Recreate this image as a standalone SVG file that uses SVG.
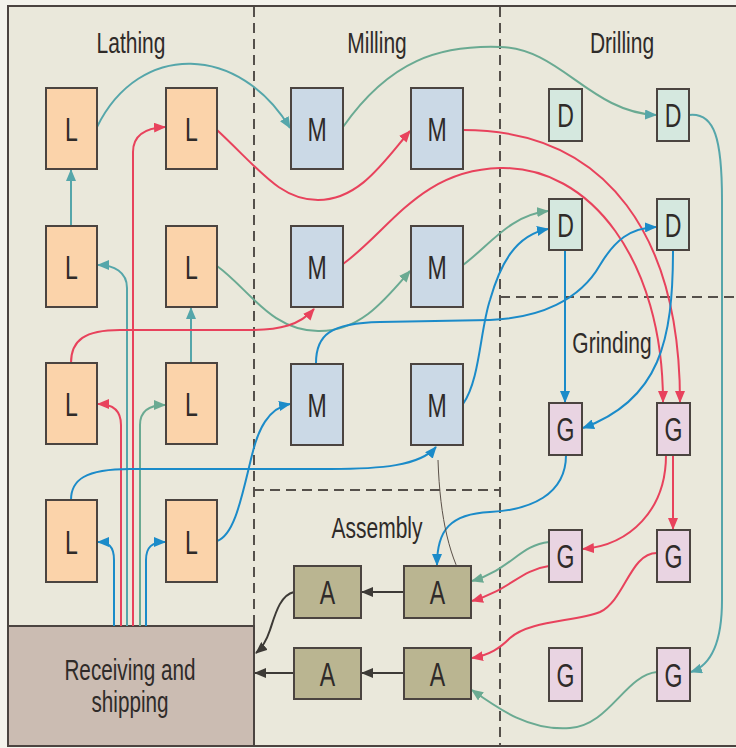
<svg xmlns="http://www.w3.org/2000/svg" width="736" height="748" viewBox="0 0 736 748">
<style>
.box{stroke:#4b4440;stroke-width:2}
.L{fill:#fbd3aa}.M{fill:#cbd9e6}.D{fill:#d5e8df}.G{fill:#e9d4e2}.A{fill:#bab591}
.lbl{font-family:"Liberation Sans",Arial,sans-serif;font-size:33px;fill:#2f2b29;text-anchor:middle}
.ttl{font-family:"Liberation Sans",Arial,sans-serif;font-size:30px;fill:#2f2b29;text-anchor:middle}
.dash{stroke:#55504b;stroke-width:2;stroke-dasharray:10 6;fill:none}
.c{fill:none;stroke-width:2}
.t{stroke:#55a6aa}.g{stroke:#6aaa92}.r{stroke:#e8425c}.b{stroke:#1b8bc9}.k{stroke:#3d3a36}
</style>
<defs>
<marker id="at" viewBox="0 0 12 10" refX="11" refY="5" markerWidth="12" markerHeight="10" markerUnits="userSpaceOnUse" orient="auto"><path d="M0,0 L12,5 L0,10 z" fill="#55a6aa"/></marker>
<marker id="ag" viewBox="0 0 12 10" refX="11" refY="5" markerWidth="12" markerHeight="10" markerUnits="userSpaceOnUse" orient="auto"><path d="M0,0 L12,5 L0,10 z" fill="#6aaa92"/></marker>
<marker id="ar" viewBox="0 0 12 10" refX="11" refY="5" markerWidth="12" markerHeight="10" markerUnits="userSpaceOnUse" orient="auto"><path d="M0,0 L12,5 L0,10 z" fill="#e8425c"/></marker>
<marker id="ab" viewBox="0 0 12 10" refX="11" refY="5" markerWidth="12" markerHeight="10" markerUnits="userSpaceOnUse" orient="auto"><path d="M0,0 L12,5 L0,10 z" fill="#1b8bc9"/></marker>
<marker id="ak" viewBox="0 0 12 10" refX="11" refY="5" markerWidth="12" markerHeight="10" markerUnits="userSpaceOnUse" orient="auto"><path d="M0,0 L12,5 L0,10 z" fill="#3d3a36"/></marker>
</defs>
<rect x="0" y="0" width="736" height="748" fill="#f4f3ec"/>
<rect x="8" y="6" width="740" height="740" fill="#eae8db" stroke="#4b4440" stroke-width="2"/>
<g id="zones">
<line class="dash" x1="254" y1="7" x2="254" y2="626"/>
<line class="dash" x1="500" y1="7" x2="500" y2="746"/>
<line class="dash" x1="500" y1="297" x2="736" y2="297"/>
<line class="dash" x1="254" y1="490" x2="500" y2="490"/>
<text class="ttl" transform="translate(131,53) scale(0.7,1)">Lathing</text>
<text class="ttl" transform="translate(377,53) scale(0.7,1)">Milling</text>
<text class="ttl" transform="translate(622,53) scale(0.7,1)">Drilling</text>
<text class="ttl" transform="translate(612,353) scale(0.7,1)">Grinding</text>
<text class="ttl" transform="translate(377,538) scale(0.7,1)">Assembly</text>
</g>
<g id="receiving">
<rect x="8" y="626" width="246" height="120" fill="#cbbcb2" stroke="#4b4440" stroke-width="2"/>
<text class="ttl" transform="translate(130,680) scale(0.69,1)">Receiving and</text>
<text class="ttl" transform="translate(130,712) scale(0.69,1)">shipping</text>
</g>
<g id="connectors">
<path class="c b" d="M114,626 L114,560 C114,546 108,542 98,542" marker-end="url(#ab)"/>
<path class="c r" d="M121,626 L121,425 C121,410 112,404 98,404" marker-end="url(#ar)"/>
<path class="c t" d="M127,626 L127,288 C127,272 114,265 98,265" marker-end="url(#at)"/>
<path class="c r" d="M133,626 L133,152 C133,135 145,128 165,127" marker-end="url(#ar)"/>
<path class="c g" d="M140,626 L140,425 C140,411 150,405 165,405" marker-end="url(#ag)"/>
<path class="c b" d="M146,626 L146,560 C146,547 152,542 165,542" marker-end="url(#ab)"/>
<path class="c t" d="M71,226 L71,170" marker-end="url(#at)"/>
<path class="c t" d="M191,363 L191,308" marker-end="url(#at)"/>
<path class="c t" d="M97,127 C140,40 240,45 290,128" marker-end="url(#at)"/>
<path class="c r" d="M217,130 C260,170 280,200 318,200 C360,200 385,160 410,131" marker-end="url(#ar)"/>
<path class="c g" d="M217,266 C250,290 270,330 318,331 C360,332 385,300 410,271" marker-end="url(#ag)"/>
<path class="c r" d="M71,363 C71,340 85,330 120,330 L250,330 C280,330 300,325 314,309" marker-end="url(#ar)"/>
<path class="c b" d="M71,500 C71,480 85,469 130,469 L330,469 C380,469 420,466 436,447" marker-end="url(#ab)"/>
<path class="c b" d="M217,541 C235,535 242,495 252,455 C258,430 268,408 290,404" marker-end="url(#ab)"/>
<path class="c g" d="M343,127 C390,60 440,45 500,47 C560,48 590,112 656,115" marker-end="url(#at)"/>
<path class="c r" d="M463,130 C610,130 680,240 680,402" marker-end="url(#ar)"/>
<path class="c r" d="M343,264 C390,230 420,170 500,168 C590,166 663,260 663,402" marker-end="url(#ar)"/>
<path class="c g" d="M463,265 C490,245 510,215 548,211" marker-end="url(#ag)"/>
<path class="c b" d="M316,363 C316,335 330,323 380,322 L490,320 C540,318 580,300 600,265 C615,240 630,228 656,227" marker-end="url(#ab)"/>
<path class="c b" d="M463,404 C480,380 480,330 490,300 C500,265 515,235 548,229" marker-end="url(#ab)"/>
<path class="c t" d="M689,115 C715,112 722,140 722,200 L722,600 C722,640 712,665 691,672" marker-end="url(#at)"/>
<path class="c b" d="M565,250 L565,402" marker-end="url(#ab)"/>
<path class="c b" d="M673,250 C673,340 660,400 583,428" marker-end="url(#ab)"/>
<path class="c b" d="M566,455 C566,495 530,510 490,512 C450,514 437,530 437,565" marker-end="url(#ab)"/>
<path class="c r" d="M666,455 C666,510 630,545 583,549" marker-end="url(#ar)"/>
<path class="c r" d="M673,455 L673,529" marker-end="url(#ar)"/>
<path class="c g" d="M549,542 C520,545 510,570 472,581" marker-end="url(#ag)"/>
<path class="c r" d="M549,566 C520,570 510,590 472,601" marker-end="url(#ar)"/>
<path class="c r" d="M657,553 C630,553 625,600 600,612 C575,622 530,620 510,638 C500,648 490,655 472,658" marker-end="url(#ar)"/>
<path class="c g" d="M657,672 C625,675 610,725 570,728 C530,731 500,710 472,690" marker-end="url(#ag)"/>
<path class="c k" d="M404,592 L362,592" marker-end="url(#ak)"/>
<path class="c k" d="M404,673 L362,673" marker-end="url(#ak)"/>
<path class="c k" d="M294,673 L255,673" marker-end="url(#ak)"/>
<path class="c k" d="M294,592 C280,595 275,615 270,630 C266,642 262,648 256,653" marker-end="url(#ak)"/>
<path d="M438,460 C440,520 450,560 468,588" fill="none" stroke="#5a5048" stroke-width="1"/>
</g>
<g id="L11"><rect class="box L" x="46" y="88" width="51" height="81"/><text class="lbl" transform="translate(71.5,141) scale(0.7,1)">L</text></g>
<g id="L12"><rect class="box L" x="166" y="88" width="51" height="81"/><text class="lbl" transform="translate(191.5,141) scale(0.7,1)">L</text></g>
<g id="L21"><rect class="box L" x="46" y="226" width="51" height="81"/><text class="lbl" transform="translate(71.5,279) scale(0.7,1)">L</text></g>
<g id="L22"><rect class="box L" x="166" y="226" width="51" height="81"/><text class="lbl" transform="translate(191.5,279) scale(0.7,1)">L</text></g>
<g id="L31"><rect class="box L" x="46" y="363" width="51" height="81"/><text class="lbl" transform="translate(71.5,416) scale(0.7,1)">L</text></g>
<g id="L32"><rect class="box L" x="166" y="363" width="51" height="81"/><text class="lbl" transform="translate(191.5,416) scale(0.7,1)">L</text></g>
<g id="L41"><rect class="box L" x="46" y="500" width="51" height="82"/><text class="lbl" transform="translate(71.5,554) scale(0.7,1)">L</text></g>
<g id="L42"><rect class="box L" x="166" y="500" width="51" height="82"/><text class="lbl" transform="translate(191.5,554) scale(0.7,1)">L</text></g>
<g id="M11"><rect class="box M" x="291" y="88" width="52" height="81"/><text class="lbl" transform="translate(317,141) scale(0.7,1)">M</text></g>
<g id="M12"><rect class="box M" x="411" y="88" width="52" height="81"/><text class="lbl" transform="translate(437,141) scale(0.7,1)">M</text></g>
<g id="M21"><rect class="box M" x="291" y="226" width="52" height="81"/><text class="lbl" transform="translate(317,279) scale(0.7,1)">M</text></g>
<g id="M22"><rect class="box M" x="411" y="226" width="52" height="81"/><text class="lbl" transform="translate(437,279) scale(0.7,1)">M</text></g>
<g id="M31"><rect class="box M" x="291" y="364" width="52" height="81"/><text class="lbl" transform="translate(317,417) scale(0.7,1)">M</text></g>
<g id="M32"><rect class="box M" x="411" y="364" width="52" height="81"/><text class="lbl" transform="translate(437,417) scale(0.7,1)">M</text></g>
<g id="D11"><rect class="box D" x="549" y="89" width="33" height="52"/><text class="lbl" transform="translate(565.5,127) scale(0.7,1)">D</text></g>
<g id="D12"><rect class="box D" x="657" y="89" width="32" height="52"/><text class="lbl" transform="translate(673,127) scale(0.7,1)">D</text></g>
<g id="D21"><rect class="box D" x="549" y="199" width="33" height="51"/><text class="lbl" transform="translate(565.5,236.5) scale(0.7,1)">D</text></g>
<g id="D22"><rect class="box D" x="657" y="199" width="32" height="51"/><text class="lbl" transform="translate(673,236.5) scale(0.7,1)">D</text></g>
<g id="G11"><rect class="box G" x="549" y="403" width="33" height="52"/><text class="lbl" transform="translate(565.5,441) scale(0.7,1)">G</text></g>
<g id="G12"><rect class="box G" x="657" y="403" width="33" height="52"/><text class="lbl" transform="translate(673.5,441) scale(0.7,1)">G</text></g>
<g id="G21"><rect class="box G" x="549" y="530" width="33" height="52"/><text class="lbl" transform="translate(565.5,568) scale(0.7,1)">G</text></g>
<g id="G22"><rect class="box G" x="657" y="530" width="33" height="52"/><text class="lbl" transform="translate(673.5,568) scale(0.7,1)">G</text></g>
<g id="G31"><rect class="box G" x="549" y="648" width="33" height="53"/><text class="lbl" transform="translate(565.5,686.5) scale(0.7,1)">G</text></g>
<g id="G32"><rect class="box G" x="657" y="648" width="33" height="53"/><text class="lbl" transform="translate(673.5,686.5) scale(0.7,1)">G</text></g>
<g id="A11"><rect class="box A" x="294" y="566" width="67" height="52"/><text class="lbl" transform="translate(327.5,604) scale(0.7,1)">A</text></g>
<g id="A12"><rect class="box A" x="404" y="566" width="67" height="52"/><text class="lbl" transform="translate(437.5,604) scale(0.7,1)">A</text></g>
<g id="A21"><rect class="box A" x="294" y="648" width="67" height="51"/><text class="lbl" transform="translate(327.5,685.5) scale(0.7,1)">A</text></g>
<g id="A22"><rect class="box A" x="404" y="648" width="67" height="51"/><text class="lbl" transform="translate(437.5,685.5) scale(0.7,1)">A</text></g>
</svg>
